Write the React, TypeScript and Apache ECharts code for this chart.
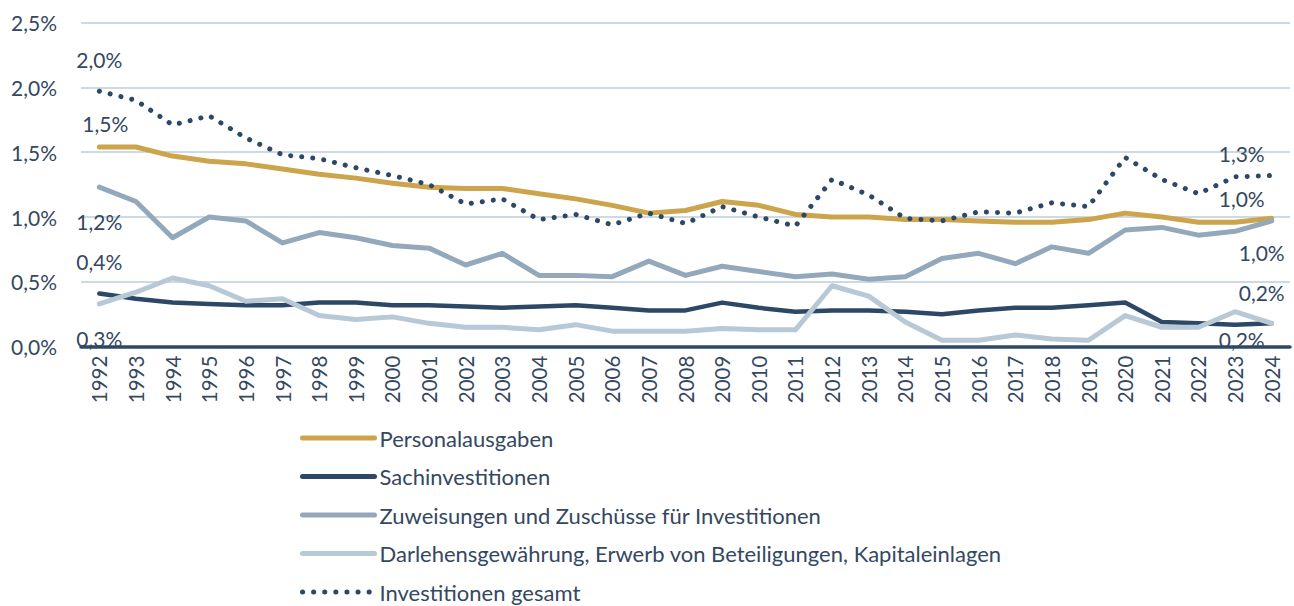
import React, { useEffect, useRef } from "react";
import * as echarts from "echarts";

const years = ["1992","1993","1994","1995","1996","1997","1998","1999","2000","2001","2002","2003","2004","2005","2006","2007","2008","2009","2010","2011","2012","2013","2014","2015","2016","2017","2018","2019","2020","2021","2022","2023","2024"];

const personal = [1.54,1.54,1.47,1.43,1.41,1.37,1.33,1.30,1.26,1.23,1.22,1.22,1.18,1.14,1.09,1.03,1.05,1.12,1.09,1.02,1.00,1.00,0.98,0.98,0.97,0.96,0.96,0.98,1.03,1.00,0.96,0.96,0.99];
const sach = [0.41,0.37,0.34,0.33,0.32,0.32,0.34,0.34,0.32,0.32,0.31,0.30,0.31,0.32,0.30,0.28,0.28,0.34,0.30,0.27,0.28,0.28,0.27,0.25,0.28,0.30,0.30,0.32,0.34,0.19,0.18,0.17,0.18];
const zuweisungen = [1.23,1.12,0.84,1.00,0.97,0.80,0.88,0.84,0.78,0.76,0.63,0.72,0.55,0.55,0.54,0.66,0.55,0.62,0.58,0.54,0.56,0.52,0.54,0.68,0.72,0.64,0.77,0.72,0.90,0.92,0.86,0.89,0.97];
const darlehen = [0.33,0.42,0.53,0.47,0.35,0.37,0.24,0.21,0.23,0.18,0.15,0.15,0.13,0.17,0.12,0.12,0.12,0.14,0.13,0.13,0.47,0.39,0.19,0.05,0.05,0.09,0.06,0.05,0.24,0.15,0.15,0.27,0.18];
const gesamt = [1.97,1.90,1.71,1.78,1.61,1.48,1.45,1.38,1.32,1.25,1.10,1.14,0.98,1.02,0.94,1.03,0.95,1.08,1.00,0.93,1.29,1.17,0.99,0.97,1.04,1.03,1.11,1.08,1.46,1.29,1.18,1.31,1.32];

const seriesNames = [
  "Personalausgaben",
  "Sachinvestitionen",
  "Zuweisungen und Zuschüsse für Investitionen",
  "Darlehensgewährung, Erwerb von Beteiligungen, Kapitaleinlagen",
  "Investitionen gesamt",
];

const FONT = "Lato";
const TEXT = "#34485F";

const fmt = (v: number) => v.toFixed(1).replace(".", ",") + "%";

function endLabels(values: number[], startOff: number[], endOff: number[]) {
  const last = values.length - 1;
  return {
    symbol: "circle",
    symbolSize: 1,
    silent: true,
    itemStyle: { color: "transparent" },
    label: {
      show: true,
      position: "inside",
      color: TEXT,
      fontSize: 21,
      fontFamily: FONT,
      formatter: (p: any) => fmt(p.value),
    },
    data: [
      { coord: [years[0], values[0]], value: values[0], label: { offset: startOff } },
      { coord: [years[last], values[last]], value: values[last], label: { offset: endOff } },
    ],
  };
}

export default function App() {
  const ref = useRef<HTMLDivElement>(null);
  useEffect(() => {
    document.body.style.margin = "0";
    if (!ref.current) return;
    const chart = echarts.init(ref.current, null, { renderer: "svg" });
    const lineBase = (name: string, data: number[], color: string, width: number, extra: any = {}) => ({
      name,
      type: "line",
      data,
      symbol: "none",
      smooth: false,
      lineStyle: { color, width, cap: "round", join: "round" },
      itemStyle: { color },
      ...extra,
    });
    chart.setOption({
      animation: false,
      backgroundColor: "#ffffff",
      textStyle: { fontFamily: FONT },
      grid: { left: 81, right: 4, top: 22.5, bottom: 259.3, containLabel: false },
      legend: {
        orient: "vertical",
        left: 300,
        top: 427,
        height: 220,
        padding: 0,
        itemWidth: 72,
        itemHeight: 0.1,
        itemGap: 16.5,
        data: seriesNames,
        lineStyle: { width: 5 },
        textStyle: { color: TEXT, fontSize: 22, fontFamily: FONT },
      },
      xAxis: {
        type: "category",
        data: years,
        boundaryGap: true,
        axisLine: { show: true, lineStyle: { color: "#2E4866", width: 3.5 } },
        axisTick: { show: false },
        axisLabel: { rotate: 90, color: TEXT, fontSize: 20.5, fontFamily: FONT, margin: 9, interval: 0 },
        splitLine: { show: false },
      },
      yAxis: {
        type: "value",
        min: 0,
        max: 2.5,
        interval: 0.5,
        axisLine: { show: false },
        axisTick: { show: false },
        axisLabel: { color: TEXT, fontSize: 21, fontFamily: FONT, margin: 24, formatter: (v: number) => fmt(v) },
        splitLine: { lineStyle: { color: "#BCCCDA", width: 1.5 } },
      },
      series: [
        lineBase(seriesNames[0], personal, "#CCA44C", 5, { markPoint: endLabels(personal, [6, -23], [-30, -20]) }),
        lineBase(seriesNames[1], sach, "#2D4866", 4.5, { markPoint: endLabels(sach, [0, -32], [-30, 16]) }),
        lineBase(seriesNames[2], zuweisungen, "#94A8BC", 5, { markPoint: endLabels(zuweisungen, [0, 34], [-10, 32]) }),
        lineBase(seriesNames[3], darlehen, "#B7C8D6", 5, { markPoint: endLabels(darlehen, [0, 35], [-10, -31]) }),
        {
          name: seriesNames[4],
          type: "line",
          data: gesamt,
          symbol: "none",
          z: 5,
          lineStyle: { color: "#2D4866", width: 5, type: [0.1, 11], cap: "round", join: "round" },
          itemStyle: { color: "#2D4866" },
          markPoint: endLabels(gesamt, [0, -32], [-30, -22]),
        },
      ],
    });
    return () => chart.dispose();
  }, []);
  return <div ref={ref} style={{ width: 1294, height: 606 }} />;
}
